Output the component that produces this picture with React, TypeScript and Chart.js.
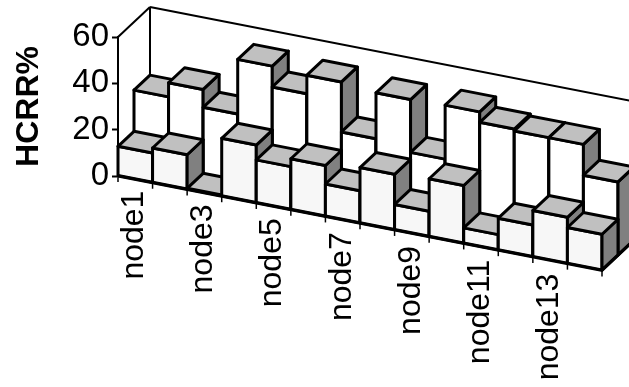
import React, { useEffect, useRef } from "react";
import { Chart, BarController, BarElement, CategoryScale, LinearScale } from "chart.js";

const categories = ["node1","node2","node3","node4","node5","node6","node7","node8","node9","node10","node11","node12","node13","node14"];
const frontValues = [12.8, 15, 0.5, 25, 18.6, 22, 14, 24, 11, 25, 6.7, 13.8, 20, 15.6];
const backValues = [30.6, 36.7, 29, 52.6, 43.6, 51.6, 30, 49.8, 27, 50.3, 45.8, 45, 45, 31.7];
const yTicks = [0, 20, 40, 60];

const FONT = "'Liberation Sans', Arial, sans-serif";
const SLOPE = 0.195;
const LABEL_SLOPE = 0.2;
const DEPTH_X = 16;
const DEPTH_Y = 15;
const TOP_FACE = "#C0C0C0";
const SIDE_FACE = "#808080";

const project = (left: number, x: number, y: number, d: number): [number, number] => [
  x + d * DEPTH_X,
  y + SLOPE * (x - left) - d * DEPTH_Y,
];

function poly(ctx: CanvasRenderingContext2D, pts: [number, number][], fill: string) {
  ctx.beginPath();
  pts.forEach((p, i) => (i ? ctx.lineTo(p[0], p[1]) : ctx.moveTo(p[0], p[1])));
  ctx.closePath();
  ctx.fillStyle = fill;
  ctx.fill();
  ctx.stroke();
}

class Bar3DElement extends BarElement {
  static id = "bar3d";
  static defaults = { ...BarElement.defaults };
  draw(ctx: CanvasRenderingContext2D) {
    const self: any = this;
    const layer = self.depthLayer as number;
    const left = self.plotLeft as number;
    const x0 = self.x - self.width / 2;
    const x1 = self.x + self.width / 2;
    const yT = self.y;
    const yB = self.base;
    const P = (x: number, y: number, d: number) => project(left, x, y, d);
    ctx.save();
    ctx.lineWidth = 3;
    ctx.strokeStyle = "#000";
    ctx.lineJoin = "round";
    poly(ctx, [P(x0, yB, layer), P(x1, yB, layer), P(x1, yT, layer), P(x0, yT, layer)], self.options.backgroundColor);
    poly(ctx, [P(x1, yB, layer), P(x1, yB, layer + 1), P(x1, yT, layer + 1), P(x1, yT, layer)], SIDE_FACE);
    poly(ctx, [P(x0, yT, layer), P(x1, yT, layer), P(x1, yT, layer + 1), P(x0, yT, layer + 1)], TOP_FACE);
    ctx.restore();
  }
}

class Bar3DController extends BarController {
  static id = "bar3d";
  static defaults = { ...BarController.defaults, dataElementType: "bar3d" };
  draw() {
    const self: any = this;
    const layer = self.getDataset().depthLayer;
    self._cachedMeta.data.forEach((el: any) => {
      el.depthLayer = layer;
      el.plotLeft = self.chart.chartArea.left;
    });
    super.draw();
  }
}

const wallsPlugin = {
  id: "walls",
  beforeDatasetsDraw(chart: any) {
    const { ctx, chartArea, scales } = chart;
    const left = chartArea.left;
    const y0 = scales.y.getPixelForValue(0);
    const yMax = scales.y.getPixelForValue(60);
    const P = (x: number, y: number, d: number) => project(left, x, y, d);
    const rightX = chartArea.right;
    const line = (a: [number, number], b: [number, number], w: number) => {
      ctx.lineWidth = w;
      ctx.beginPath();
      ctx.moveTo(a[0], a[1]);
      ctx.lineTo(b[0], b[1]);
      ctx.stroke();
    };
    ctx.save();
    ctx.strokeStyle = "#000";
    line(P(left, yMax, 0), P(left, yMax, 2), 2);
    line(P(left, yMax, 2), P(left, y0, 2), 2);
    line(P(left, yMax, 2), P(rightX, yMax, 2), 2);
    ctx.restore();
  },
  afterDatasetsDraw(chart: any) {
    const { ctx, chartArea, scales } = chart;
    const left = chartArea.left;
    const xs = scales.x;
    const y0 = scales.y.getPixelForValue(0);
    const P = (x: number, y: number, d: number) => project(left, x, y, d);
    const step = (chartArea.right - left) / categories.length;
    ctx.save();
    ctx.strokeStyle = "#000";
    ctx.lineWidth = 3;
    ctx.beginPath();
    const a = P(left, y0, 0);
    const b = P(chartArea.right, y0, 0);
    const c = P(chartArea.right, y0, 2);
    ctx.moveTo(a[0], a[1]);
    ctx.lineTo(b[0], b[1]);
    ctx.lineTo(c[0], c[1]);
    ctx.stroke();
    ctx.lineWidth = 1.5;
    categories.forEach((_, i) => {
      const px = xs.getPixelForValue(i) - step / 2;
      const p = P(px, y0, 0);
      ctx.beginPath();
      ctx.moveTo(p[0], p[1]);
      ctx.lineTo(p[0], p[1] + 6);
      ctx.stroke();
    });
    const e = P(chartArea.right, y0, 0);
    ctx.beginPath();
    ctx.moveTo(e[0], e[1]);
    ctx.lineTo(e[0], e[1] + 6);
    ctx.stroke();
    ctx.restore();
  },
};

Chart.register(BarController, BarElement, CategoryScale, LinearScale, Bar3DElement, Bar3DController, wallsPlugin);

export default function App() {
  const ref = useRef<HTMLCanvasElement>(null);
  useEffect(() => {
    const chart = new Chart(ref.current!, {
      type: "bar3d" as any,
      data: {
        labels: categories,
        datasets: [
          { label: "front", data: frontValues, backgroundColor: "#F7F7F7", depthLayer: 0, clip: false } as any,
          { label: "back", data: backValues, backgroundColor: "#FFFFFF", depthLayer: 1, clip: false } as any,
        ],
      },
      options: {
        responsive: false,
        animation: false,
        events: [],
        devicePixelRatio: 1,
        layout: { padding: { top: 37, right: 27, left: 0, bottom: 0 } },
        grouped: false,
        categoryPercentage: 1,
        barPercentage: 1,
        plugins: {},
        scales: {
          x: {
            type: "category",
            offset: true,
            border: { display: false },
            grid: { display: false },
            ticks: {
              autoSkip: false,
              minRotation: 90,
              maxRotation: 90,
              color: "#000",
              padding: 0,
              font: { family: FONT, size: 32 },
              callback(this: any, _v: any, i: number) {
                return i % 2 === 0 ? categories[i] : "";
              },
            },
            afterFit(scale: any) {
              scale.height = 211;
            },
            afterUpdate(scale: any) {
              if (scale.__patched) return;
              scale.__patched = true;
              const orig = scale._computeLabelItems;
              scale._computeLabelItems = function (area: any) {
                const items = orig.call(this, area);
                const left = this.chart.chartArea.left;
                const bottom = this.chart.chartArea.bottom;
                items.forEach((it: any) => {
                  const t = it.options.translation;
                  t[1] = bottom + 15 + LABEL_SLOPE * (t[0] - left);
                  t[0] -= 1;
                });
                return items;
              };
            },
          } as any,
          y: {
            type: "linear",
            min: 0,
            max: 60,
            afterBuildTicks(scale: any) {
              scale.ticks = yTicks.map((value) => ({ value }));
            },
            border: { display: true, color: "#000", width: 2 },
            grid: { display: true, drawOnChartArea: false, drawTicks: true, tickLength: 6, tickColor: "#000", tickWidth: 2 },
            ticks: { color: "#000", padding: 3, font: { family: FONT, size: 33 } },
            title: {
              display: true,
              text: "HCRR%",
              color: "#000",
              padding: { top: 10, bottom: 0 },
              font: { family: FONT, size: 32, weight: "bold" },
            },
            afterFit(scale: any) {
              scale.width = 118;
            },
          } as any,
        },
      } as any,
    });
    return () => chart.destroy();
  }, []);
  return (
    <div style={{ position: "absolute", left: 0, top: 0, width: 629, height: 387, background: "#fff" }}>
      <canvas ref={ref} width={629} height={387} style={{ display: "block" }} />
    </div>
  );
}
